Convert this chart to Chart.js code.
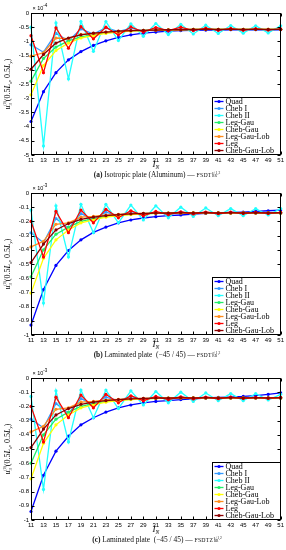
<!DOCTYPE html>
<html>
<head>
<meta charset="utf-8">
<script src="https://cdn.jsdelivr.net/npm/chart.js@4.4.1/dist/chart.umd.min.js"></script>
<style>
  body { margin: 0; background: #fff; width: 286px; height: 550px; overflow: hidden; position: relative; font-family: "Liberation Serif", serif; }
  .panel { position: absolute; left: 0; width: 286px; height: 185px; }
  .panel canvas { position: absolute; left: 0; top: 0; }
  .cap { position: absolute; left: 31px; width: 252px; top: 171px; text-align: center; font-size: 7.4px; line-height: 8px; white-space: nowrap; color: #111; }
  .sc { font-size: 5.8px; letter-spacing: 0.2px; }
  .ss { display: inline-block; vertical-align: middle; font-size: 3.6px; line-height: 3.8px; text-align: left; margin-left: 0.5px; }
  .ss span { display: block; }
</style>
</head>
<body>
<div class="panel" style="top:0px"><canvas id="chartA" width="286" height="172"></canvas>
  <div class="cap"><b>(a)</b> Isotropic plate (Aluminum) &#8212; <span class="sc">FSDT</span><span class="ss"><span>z+1,2</span><span>RR</span></span></div></div>
<div class="panel" style="top:180px"><canvas id="chartB" width="286" height="172"></canvas>
  <div class="cap"><b>(b)</b> Laminated plate &nbsp;(&#8722;45 / 45) &#8212; <span class="sc">FSDT</span><span class="ss"><span>z+1,2</span><span>RR</span></span></div></div>
<div class="panel" style="top:365px"><canvas id="chartC" width="286" height="172"></canvas>
  <div class="cap"><b>(c)</b> Laminated plate &nbsp;(&#8722;45 / 45) &#8212; <span class="sc">FSDTZ</span><span class="ss"><span>z+1,2</span><span>RR</span></span></div></div>

<script>
// --- DATA ---
const nLabels = ["11","13","15","17","19","21","23","25","27","29","31","33","35","37","39","41","43","45","47","49","51"];
const seriesNames = ["Quad", "Cheb I", "Cheb II", "Leg-Gau", "Cheb-Gau", "Leg-Gau-Lob", "Leg", "Cheb-Gau-Lob"];
const seriesColors = ["#0000ff", "#3399ff", "#22ffff", "#22ee66", "#ffff00", "#ff8c1a", "#ff0000", "#8b0000"];

// (a) isotropic, x 1e-4
const quadA      = [-3.82,-2.77,-2.10,-1.65,-1.36,-1.14,-0.98,-0.86,-0.77,-0.71,-0.67,-0.64,-0.62,-0.61,-0.60,-0.60,-0.59,-0.59,-0.59,-0.59,-0.59];
const chebIA     = [-1.12,-1.38,-0.72,-0.98,-0.56,-0.74,-0.52,-0.66,-0.53,-0.63,-0.55,-0.61,-0.56,-0.60,-0.57,-0.59,-0.57,-0.59,-0.58,-0.59,-0.58];
const chebIIA    = [-0.50,-4.68,-0.35,-2.32,-0.30,-1.35,-0.30,-0.97,-0.38,-0.82,-0.37,-0.76,-0.40,-0.74,-0.43,-0.72,-0.44,-0.71,-0.45,-0.70,-0.45];
const legGauA    = [-2.40,-1.60,-1.20,-0.98,-0.84,-0.76,-0.70,-0.66,-0.63,-0.61,-0.60,-0.59,-0.59,-0.58,-0.58,-0.58,-0.58,-0.58,-0.58,-0.58,-0.58];
const chebGauA   = [-2.88,-1.85,-1.32,-1.06,-0.88,-0.80,-0.72,-0.67,-0.64,-0.62,-0.60,-0.59,-0.59,-0.58,-0.58,-0.58,-0.58,-0.58,-0.58,-0.58,-0.58];
const legGauLobA = [-1.52,-1.40,-0.88,-0.90,-0.75,-0.73,-0.67,-0.65,-0.62,-0.61,-0.60,-0.59,-0.59,-0.58,-0.58,-0.58,-0.58,-0.58,-0.58,-0.58,-0.58];
const legA       = [-0.80,-2.10,-0.52,-1.24,-0.48,-0.91,-0.50,-0.77,-0.49,-0.67,-0.51,-0.62,-0.50,-0.62,-0.53,-0.61,-0.54,-0.61,-0.55,-0.60,-0.56];
const chebGauLobA= [-1.98,-1.46,-1.06,-0.88,-0.77,-0.71,-0.67,-0.64,-0.62,-0.61,-0.60,-0.59,-0.59,-0.58,-0.58,-0.58,-0.58,-0.58,-0.58,-0.58,-0.58];

// (b) laminated, x 1e-3
const quadB      = [-0.93,-0.68,-0.51,-0.405,-0.33,-0.277,-0.24,-0.21,-0.19,-0.176,-0.167,-0.16,-0.155,-0.149,-0.144,-0.14,-0.137,-0.134,-0.13,-0.125,-0.12];
const chebIB     = [-0.28,-0.35,-0.18,-0.25,-0.145,-0.185,-0.135,-0.16,-0.13,-0.155,-0.135,-0.15,-0.135,-0.145,-0.137,-0.143,-0.138,-0.142,-0.139,-0.141,-0.14];
const chebIIB    = [-0.12,-0.775,-0.09,-0.45,-0.08,-0.28,-0.08,-0.21,-0.085,-0.19,-0.09,-0.175,-0.10,-0.165,-0.105,-0.16,-0.11,-0.16,-0.11,-0.155,-0.11];
const legGauB    = [-0.59,-0.40,-0.29,-0.24,-0.20,-0.18,-0.165,-0.155,-0.15,-0.146,-0.143,-0.142,-0.141,-0.14,-0.14,-0.14,-0.14,-0.14,-0.14,-0.14,-0.14];
const chebGauB   = [-0.705,-0.46,-0.33,-0.26,-0.21,-0.19,-0.17,-0.16,-0.152,-0.147,-0.144,-0.142,-0.141,-0.14,-0.14,-0.14,-0.14,-0.14,-0.14,-0.14,-0.14];
const legGauLobB = [-0.38,-0.34,-0.22,-0.21,-0.17,-0.165,-0.155,-0.15,-0.146,-0.144,-0.142,-0.141,-0.14,-0.14,-0.14,-0.14,-0.14,-0.14,-0.14,-0.14,-0.14];
const legB       = [-0.20,-0.45,-0.13,-0.28,-0.12,-0.21,-0.115,-0.175,-0.125,-0.16,-0.13,-0.152,-0.132,-0.148,-0.134,-0.146,-0.135,-0.145,-0.136,-0.144,-0.137];
const chebGauLobB= [-0.49,-0.36,-0.26,-0.215,-0.185,-0.17,-0.16,-0.152,-0.147,-0.144,-0.142,-0.141,-0.14,-0.14,-0.14,-0.14,-0.14,-0.14,-0.14,-0.14,-0.14];

// (c) laminated FSDTZ, x 1e-3
const quadC      = [-0.94,-0.685,-0.515,-0.41,-0.33,-0.28,-0.24,-0.21,-0.19,-0.175,-0.165,-0.16,-0.152,-0.146,-0.141,-0.137,-0.134,-0.13,-0.124,-0.115,-0.105];
const chebIC     = [-0.29,-0.35,-0.18,-0.25,-0.145,-0.185,-0.135,-0.16,-0.13,-0.155,-0.135,-0.15,-0.135,-0.145,-0.137,-0.143,-0.138,-0.142,-0.139,-0.141,-0.14];
const chebIIC    = [-0.13,-0.785,-0.09,-0.45,-0.085,-0.28,-0.085,-0.215,-0.09,-0.19,-0.095,-0.175,-0.10,-0.165,-0.105,-0.16,-0.11,-0.16,-0.11,-0.155,-0.115];
const legGauC    = [-0.60,-0.40,-0.29,-0.24,-0.20,-0.18,-0.165,-0.155,-0.15,-0.146,-0.143,-0.142,-0.141,-0.14,-0.14,-0.14,-0.14,-0.14,-0.14,-0.14,-0.14];
const chebGauC   = [-0.71,-0.46,-0.33,-0.26,-0.21,-0.19,-0.17,-0.16,-0.152,-0.147,-0.144,-0.142,-0.141,-0.14,-0.14,-0.14,-0.14,-0.14,-0.14,-0.14,-0.14];
const legGauLobC = [-0.38,-0.34,-0.22,-0.21,-0.17,-0.165,-0.155,-0.15,-0.146,-0.144,-0.142,-0.141,-0.14,-0.14,-0.14,-0.14,-0.14,-0.14,-0.14,-0.14,-0.14];
const legC       = [-0.20,-0.45,-0.135,-0.28,-0.12,-0.21,-0.115,-0.175,-0.125,-0.16,-0.13,-0.152,-0.132,-0.148,-0.134,-0.146,-0.135,-0.145,-0.136,-0.144,-0.137];
const chebGauLobC= [-0.49,-0.36,-0.26,-0.215,-0.185,-0.17,-0.16,-0.152,-0.147,-0.144,-0.142,-0.141,-0.14,-0.14,-0.14,-0.14,-0.14,-0.14,-0.14,-0.14,-0.14];

// --- draw text pieces in a row (sub / superscripts) ---
function richWidth(ctx, parts) {
  let w = 0;
  parts.forEach((p) => {
    ctx.font = p.font;
    const pw = ctx.measureText(p.t).width;
    if (!p.stack) w += pw;
  });
  return w;
}
function drawRich(ctx, parts, x, y) {
  let cx = x, lastX = x;
  parts.forEach((p) => {
    ctx.font = p.font;
    const pw = ctx.measureText(p.t).width;
    const px = p.stack ? lastX : cx;
    ctx.fillText(p.t, px, y + (p.dy || 0));
    if (!p.stack) { lastX = cx; cx += pw; }
  });
}

// --- PLUGIN: matlab style box, inward ticks, axis titles, legend ---
const matlabFrame = {
  id: "matlabFrame",
  afterDraw(chart, args, options) {
    const { ctx, chartArea: a, scales: { x, y } } = chart;
    const L = Math.round(a.left) + 0.5, R = Math.round(a.right) - 0.5;
    const T = Math.round(a.top) + 0.5, B = Math.round(a.bottom) - 0.5;
    ctx.save();
    ctx.strokeStyle = "#000";
    ctx.lineWidth = 1;
    ctx.strokeRect(L, T, R - L, B - T);
    ctx.beginPath();
    x.ticks.forEach((t, i) => {
      const px = Math.round(x.getPixelForTick(i)) + 0.5;
      ctx.moveTo(px, B); ctx.lineTo(px, B - 3);
      ctx.moveTo(px, T); ctx.lineTo(px, T + 3);
    });
    y.ticks.forEach((t, i) => {
      const py = Math.round(y.getPixelForTick(i)) + 0.5;
      ctx.moveTo(L, py); ctx.lineTo(L + 3, py);
      ctx.moveTo(R, py); ctx.lineTo(R - 3, py);
    });
    ctx.stroke();

    ctx.fillStyle = "#000";
    ctx.textBaseline = "alphabetic";
    ctx.textAlign = "left";

    // exponent above y axis
    drawRich(ctx, [
      { t: "\u00d7 10", font: "5.5px 'Liberation Sans'" },
      { t: "-" + options.exponent, font: "4.5px 'Liberation Sans'", dy: -3 },
    ], L + 1, T - 4);

    // x title
    const xParts = [
      { t: "I", font: "italic 9px 'Liberation Serif'" },
      { t: "N", font: "italic 5.5px 'Liberation Serif'", dy: 2 },
    ];
    const xw = richWidth(ctx, xParts);
    drawRich(ctx, xParts, (a.left + a.right) / 2 - xw / 2, 167);

    // y title, rotated
    const yParts = [
      { t: "u", font: "italic 8px 'Liberation Serif'" },
      { t: "3", font: "4.5px 'Liberation Serif'", dy: 2 },
      { t: "(0)", font: "4px 'Liberation Serif'", dy: -4, stack: true },
      { t: " (0.5", font: "8px 'Liberation Serif'" },
      { t: "L", font: "italic 8px 'Liberation Serif'" },
      { t: "x", font: "italic 5px 'Liberation Serif'", dy: 2 },
      { t: ", 0.5", font: "8px 'Liberation Serif'" },
      { t: "L", font: "italic 8px 'Liberation Serif'" },
      { t: "y", font: "italic 5px 'Liberation Serif'", dy: 2 },
      { t: ")", font: "8px 'Liberation Serif'" },
    ];
    const yw = richWidth(ctx, yParts);
    ctx.save();
    ctx.translate(10, (a.top + a.bottom) / 2);
    ctx.rotate(-Math.PI / 2);
    drawRich(ctx, yParts, -yw / 2, 0);
    ctx.restore();

    // legend box, bottom right inside plot
    const rowH = 7, boxW = 68, boxH = rowH * seriesNames.length + 1;
    const bx = Math.round(a.right) - boxW - 0.5, by = Math.round(a.bottom) - boxH - 0.5;
    ctx.fillStyle = "#fff";
    ctx.fillRect(bx, by, boxW, boxH);
    ctx.strokeRect(bx, by, boxW, boxH);
    ctx.font = "8px 'Liberation Serif'";
    ctx.textBaseline = "middle";
    seriesNames.forEach((name, i) => {
      const cy = by + 4 + i * rowH;
      ctx.strokeStyle = seriesColors[i];
      ctx.fillStyle = seriesColors[i];
      ctx.lineWidth = 1.3;
      ctx.beginPath(); ctx.moveTo(bx + 2, cy); ctx.lineTo(bx + 11, cy); ctx.stroke();
      ctx.beginPath(); ctx.arc(bx + 6.5, cy, 1.6, 0, Math.PI * 2); ctx.fill();
      ctx.fillStyle = "#000";
      ctx.fillText(name, bx + 13, cy + 0.5);
    });
    ctx.restore();
  },
};

function makeChart(id, series, yMin, yStep, exponent) {
  const datasets = series.map((vals, i) => ({
    label: seriesNames[i],
    data: vals,
    borderColor: seriesColors[i],
    backgroundColor: seriesColors[i],
    borderWidth: 1.3,
    pointRadius: 1.6,
    pointBorderWidth: 0,
    tension: 0,
    order: series.length - i, // later series on top, like matlab
  }));

  return new Chart(document.getElementById(id), {
    type: "line",
    data: { labels: nLabels, datasets },
    options: {
      responsive: false,
      animation: false,
      devicePixelRatio: 1,
      layout: { padding: { left: 0, right: 3, top: 13, bottom: 0 } },
      plugins: {
        legend: { display: false },
        tooltip: { enabled: false },
        matlabFrame: { exponent },
      },
      scales: {
        x: {
          type: "category",
          offset: false,
          grid: { display: false, drawTicks: false },
          border: { display: false },
          ticks: { color: "#000", font: { size: 6, family: "'Liberation Sans'" }, padding: 2, autoSkip: false, maxRotation: 0 },
          afterFit(s) { s.height = 17; },
        },
        y: {
          min: yMin,
          max: 0,
          grid: { display: false, drawTicks: false },
          border: { display: false },
          ticks: {
            stepSize: yStep,
            color: "#000",
            font: { size: 6, family: "'Liberation Sans'" },
            padding: 2,
            callback: (v) => String(Number(v.toFixed(2))),
          },
          afterFit(s) { s.width = 31; },
        },
      },
    },
    plugins: [matlabFrame],
  });
}

makeChart("chartA", [quadA, chebIA, chebIIA, legGauA, chebGauA, legGauLobA, legA, chebGauLobA], -5, 0.5, 4);
makeChart("chartB", [quadB, chebIB, chebIIB, legGauB, chebGauB, legGauLobB, legB, chebGauLobB], -1, 0.1, 3);
makeChart("chartC", [quadC, chebIC, chebIIC, legGauC, chebGauC, legGauLobC, legC, chebGauLobC], -1, 0.1, 3);
</script>
</body>
</html>
